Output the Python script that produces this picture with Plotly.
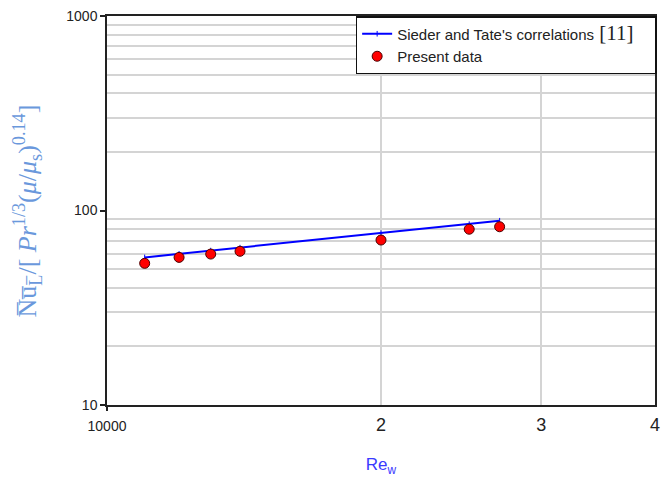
import plotly.graph_objects as go

# Reynolds numbers and normalised Nusselt numbers
re_w = [11000, 12000, 13000, 14000, 20000, 25000, 27000]
nu_present = [53.5, 57.4, 59.7, 61.7, 70.5, 80.1, 82.5]
nu_sieder_tate = [57.4, 59.9, 62.2, 64.4, 76.5, 85.1, 88.6]

x_tickvals = [20000, 30000, 40000]
x_ticktext = ["2", "3", "4"]
x_first_tick = [10000]
x_first_text = ["10000"]
x_gridvals = [20000, 30000]
y_tickvals = [10, 100, 1000]
y_ticktext = ["10", "100", "1000"]
y_gridvals = [20, 30, 40, 50, 60, 70, 80, 90, 200, 300, 400, 500, 600, 700, 800, 900]

SANS = "Liberation Sans, Arial, sans-serif"
SERIF = "Liberation Serif, DejaVu Serif, serif"
INK = "#222222"

fig = go.Figure()
fig.add_trace(go.Scatter(
    x=re_w, y=nu_sieder_tate, mode="lines+markers",
    name="Sieder and Tate's correlations"
         "<span style='font-family:Liberation Serif;font-size:21px'> [11]\u00a0\u00a0\u00a0</span>",
    line=dict(color="#0000ff", width=2),
    marker=dict(symbol="line-ns-open", size=4, color="#0000ff",
                line=dict(color="#0000ff", width=1)),
))
fig.add_trace(go.Scatter(
    x=re_w, y=nu_present, mode="markers", name="Present data",
    marker=dict(symbol="circle", size=10, color="#ff0000",
                line=dict(color="#4a0000", width=1)),
))
# transparent copy on the secondary x axis so its tick at 10000 is drawn
fig.add_trace(go.Scatter(
    x=re_w, y=nu_present, mode="markers", xaxis="x2", yaxis="y",
    marker=dict(opacity=0), showlegend=False, hoverinfo="skip",
))

fig.update_layout(
    width=668, height=481,
    margin=dict(l=107, r=8, t=16, b=76),
    paper_bgcolor="white", plot_bgcolor="white",
    font=dict(family=SANS, size=14, color=INK),
    showlegend=True,
    legend=dict(x=1.003, y=1, xanchor="right", yanchor="top",
                bgcolor="white", bordercolor="#111111", borderwidth=1.5,
                font=dict(family=SANS, size=15, color=INK),
                tracegroupgap=0),
    xaxis=dict(
        type="log", range=[4, 4.60206],
        tickvals=x_tickvals, ticktext=x_ticktext,
        ticks="", ticklabelstandoff=3, showgrid=False, zeroline=False,
        showline=True, linecolor=INK, linewidth=1.5, mirror=True,
        tickfont=dict(family=SANS, size=18, color=INK),
        minor=dict(tickvals=x_gridvals, showgrid=True,
                   gridcolor="#d4d4d4", gridwidth=1.5, ticks=""),
        title=dict(text="Re<sub>w</sub>",
                   font=dict(family=SANS, size=17, color="#3a3aff"),
                   standoff=24),
    ),
    xaxis2=dict(
        type="log", range=[4, 4.60206], overlaying="x", anchor="y",
        matches="x", tickvals=x_first_tick, ticktext=x_first_text,
        ticks="outside", ticklen=5, tickwidth=1.5, tickcolor=INK,
        ticklabelstandoff=3,
        tickfont=dict(family=SANS, size=14, color=INK),
        showgrid=False, showline=False, zeroline=False,
    ),
    yaxis=dict(
        type="log", range=[1, 3],
        tickvals=y_tickvals, ticktext=y_ticktext,
        ticks="outside", ticklen=5, tickwidth=1.5, tickcolor=INK,
        showgrid=False, zeroline=False,
        showline=True, linecolor=INK, linewidth=1.5, mirror=True,
        tickfont=dict(family=SANS, size=14, color=INK),
        minor=dict(tickvals=y_gridvals, showgrid=True,
                   gridcolor="#d4d4d4", gridwidth=1.5, ticks=""),
    ),
    annotations=[dict(
        xref="paper", yref="paper", x=0, y=0.5, xshift=-80, yshift=-1,
        xanchor="center", yanchor="middle", textangle=-90, showarrow=False,
        text="N\u0305u\u0305<sub>L\u0305</sub>/[ <i>Pr</i><sup>1/3</sup>"
             "(<i>\u03bc</i>/<i>\u03bc</i><sub>s</sub>)<sup>0.14</sup>]",
        font=dict(family=SERIF, size=26, color="#6a98dc"),
    )],
)

fig.write_html("out.html")
